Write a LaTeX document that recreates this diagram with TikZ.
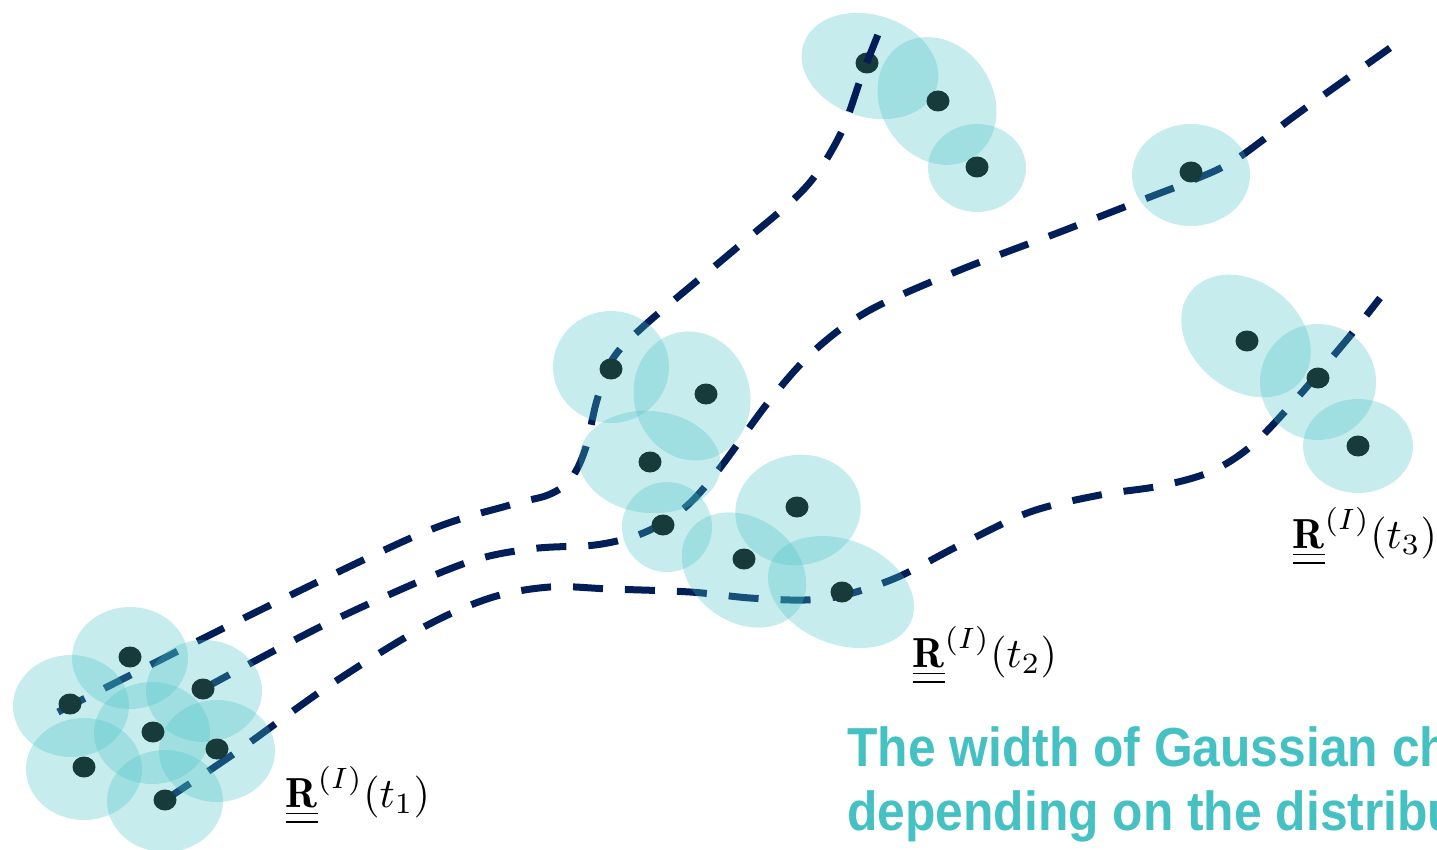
\documentclass[tikz,border=0pt]{standalone}
\usepackage{fontspec}
\newfontfamily\headfont{Liberation Sans}
\usetikzlibrary{shapes.geometric}
\definecolor{navy}{RGB}{2,30,88}
\definecolor{dotc}{RGB}{22,59,58}
\definecolor{gcyan}{RGB}{69,193,196}
\tikzset{
  blob/.style 2 args={ellipse, fill=gcyan, fill opacity=0.3, draw=none, minimum width=#1, minimum height=#2, inner sep=0pt},
  dotn/.style={ellipse, fill=dotc, draw=none, minimum width=23, minimum height=21, inner sep=0pt},
  traj/.style={draw=navy, line width=7pt, dash pattern=on 30pt off 22pt},
  lbl/.style={anchor=base west, inner sep=0pt, scale=4.2},
  head/.style={anchor=base west, inner sep=0pt, text=gcyan, xscale=0.905, font=\headfont\bfseries\fontsize{55}{66}\selectfont}
}
\begin{document}
\begin{tikzpicture}[x=1pt,y=-1pt]
\useasboundingbox (0,0) rectangle (1437,850);
\clip (0,0) rectangle (1437,850);
% top cluster (lies under the trajectory)
\node[blob={140}{102}, rotate=-18] (g3a) at (870,66) {};
\node[blob={112}{134}, rotate=33] (g3b) at (937,101) {};
\node[blob={98}{88}] (g3c) at (977,168) {};
\node[dotn] (d3a) at (867,63) {};
\node[dotn] (d3b) at (938,101) {};
\node[dotn] (d3c) at (977,167) {};
% trajectory end points
\coordinate (aS) at (58,712);
\coordinate (aE) at (883,22);
\coordinate (bS) at (203,689);
\coordinate (bE) at (1390,48);
\coordinate (cS) at (165,800);
\coordinate (cE) at (1380,298);
% trajectories
\draw[traj] plot[smooth, tension=0.55] coordinates {(aS) (240,620) (420,534) (510,505) (548,495) (570,480) (585,450) (597,400) (612,360) (645,325) (740,245) (805,188) (840,135) (862,75) (aE)};
\draw[traj] plot[smooth, tension=0.55] coordinates {(bS) (330,622) (460,565) (530,549) (595,545) (635,536) (663,523) (690,503) (720,468) (770,400) (815,350) (870,310) (960,270) (1060,232) (1150,197) (1191,181) (1235,160) (1300,112) (bE)};
\draw[traj] plot[smooth, tension=0.55] coordinates {(cS) (235,753) (330,685) (422,628) (490,598) (550,587) (610,589) (690,592) (750,598) (805,600) (845,595) (898,577) (960,545) (1030,512) (1100,495) (1160,486) (1210,472) (1250,447) (1290,406) (1345,342) (cE)};
% cluster t1
\node[blob={116}{102}] (g1a) at (130,658) {};
\node[blob={116}{102}] (g1b) at (71,706) {};
\node[blob={116}{102}] (g1c) at (204,691) {};
\node[blob={116}{102}] (g1d) at (152,733) {};
\node[blob={116}{102}] (g1e) at (84,769) {};
\node[blob={116}{102}] (g1f) at (217,751) {};
\node[blob={116}{102}] (g1g) at (165,801) {};
% cluster t2
\node[blob={116}{112}] (g2a) at (611,367) {};
\node[blob={116}{130}, rotate=15] (g2b) at (692,396) {};
\node[blob={142}{102}, rotate=-5] (g2c) at (650,462) {};
\node[blob={90}{90}] (g2d) at (667,527) {};
\node[blob={134}{104}, rotate=-36] (g2e) at (744,570) {};
\node[blob={126}{110}, rotate=10] (g2f) at (798,510) {};
\node[blob={152}{104}, rotate=-22] (g2g) at (841,592) {};
% single blob
\node[blob={118}{102}] (g3d) at (1191,175) {};
% cluster t3
\node[blob={142}{108}, rotate=-39] (g4a) at (1246,336) {};
\node[blob={116}{116}] (g4b) at (1318,382) {};
\node[blob={110}{94}] (g4c) at (1358,446) {};
% dots
\node[dotn] (d1a) at (130,657) {};
\node[dotn] (d1b) at (70,704) {};
\node[dotn] (d1c) at (203,689) {};
\node[dotn] (d1d) at (153,732) {};
\node[dotn] (d1e) at (84,767) {};
\node[dotn] (d1f) at (217,749) {};
\node[dotn] (d1g) at (165,800) {};
\node[dotn] (d2a) at (611,369) {};
\node[dotn] (d2b) at (706,394) {};
\node[dotn] (d2c) at (650,462) {};
\node[dotn] (d2d) at (663,525) {};
\node[dotn] (d2e) at (744,559) {};
\node[dotn] (d2f) at (797,507) {};
\node[dotn] (d2g) at (842,592) {};
\node[dotn] (d3d) at (1191,172) {};
\node[dotn] (d4a) at (1247,341) {};
\node[dotn] (d4b) at (1318,378) {};
\node[dotn] (d4c) at (1358,446) {};
% labels
\node[lbl] (L1) at (285,807) {$\underline{\underline{\mathbf{R}}}^{(I)}(t_1)$};
\node[lbl] (L2) at (912,667) {$\underline{\underline{\mathbf{R}}}^{(I)}(t_2)$};
\node[lbl] (L3) at (1292,548) {$\underline{\underline{\mathbf{R}}}^{(I)}(t_3)$};
\node[head] (H1) at (847,766) {The width of Gaussian changes};
\node[head] (H2) at (847,830) {depending on the distribution};
\end{tikzpicture}
\end{document}
